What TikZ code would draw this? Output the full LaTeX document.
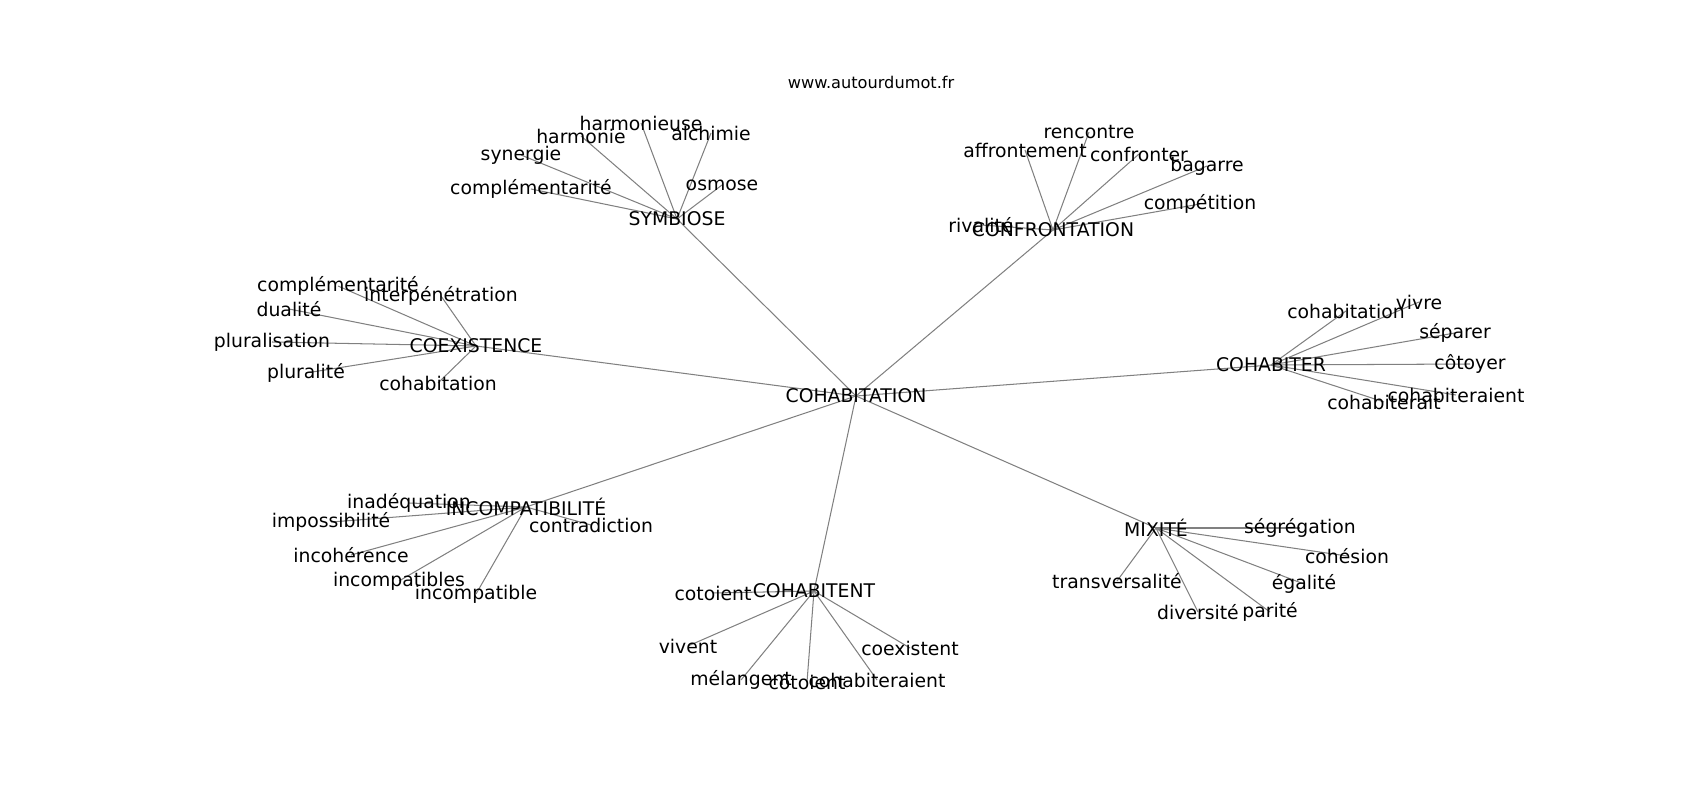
\documentclass[tikz,border=0pt]{standalone}
\usepackage{fontspec}
\setmainfont{DejaVu Sans}
\usetikzlibrary{backgrounds}
\tikzstyle{mot}=[inner sep=0pt,font=\fontsize{13.6}{16}\selectfont]
\tikzstyle{lien}=[draw=gray,line width=0.75pt]
\newcommand{\mot}[3]{\node[mot] (#1) at (#2) {#3};}
\newcommand{\lien}[2]{ \draw[lien] (#1.center) -- (#2.center);}

\begin{document}
\begin{tikzpicture}[x=0.0254cm,y=-0.0254cm]
    \useasboundingbox (0,0) rectangle (1700,800);
    \node[inner sep=0pt,font=\fontsize{11.7}{14}\selectfont] (titre) at (871,82) {www.autourdumot.fr};
    % centre et mots lies
    \mot{cohab}{856,396}{COHABITATION}
    \mot{symb}{677,219}{SYMBIOSE}
    \mot{conf}{1053,230}{CONFRONTATION}
    \mot{coex}{476,346}{COEXISTENCE}
    \mot{cohr}{1271,365}{COHABITER}
    \mot{inco}{526,507}{INCOMPATIBILITÉ}
    \mot{cohn}{814,591}{COHABITENT}
    \mot{mixi}{1156,528}{MIXITÉ}

    \mot{s1}{531,189}{complémentarité}
    \mot{s2}{521,155}{synergie}
    \mot{s3}{581,136}{harmonie}
    \mot{s4}{641,123}{harmonieuse}
    \mot{s5}{711,133}{alchimie}
    \mot{s6}{722,185}{osmose}

    \mot{f1}{1025,150}{affrontement}
    \mot{f2}{1089,132}{rencontre}
    \mot{f3}{1139,154}{confronter}
    \mot{f4}{1207,166}{bagarre}
    \mot{f5}{1200,204}{compétition}
    \mot{f6}{981,225}{rivalité}

    \mot{e1}{338,286}{complémentarité}
    \mot{e2}{441,296}{interpénétration}
    \mot{e3}{289,309}{dualité}
    \mot{e4}{272,342}{pluralisation}
    \mot{e5}{306,373}{pluralité}
    \mot{e6}{438,383}{cohabitation}

    \mot{r1}{1346,311}{cohabitation}
    \mot{r2}{1419,302}{vivre}
    \mot{r3}{1455,333}{séparer}
    \mot{r4}{1470,364}{côtoyer}
    \mot{r5}{1456,395}{cohabiteraient}
    \mot{r6}{1384,402}{cohabiterait}

    \mot{i1}{409,503}{inadéquation}
    \mot{i2}{331,522}{impossibilité}
    \mot{i3}{591,525}{contradiction}
    \mot{i4}{351,555}{incohérence}
    \mot{i5}{399,581}{incompatibles}
    \mot{i6}{476,594}{incompatible}

    \mot{n1}{713,593}{cotoient}
    \mot{n2}{688,646}{vivent}
    \mot{n3}{910,648}{coexistent}
    \mot{n4}{741,680}{mélangent}
    \mot{n5}{807,682}{côtoient}
    \mot{n6}{877,680}{cohabiteraient}

    \mot{m1}{1300,528}{ségrégation}
    \mot{m2}{1347,556}{cohésion}
    \mot{m3}{1117,581}{transversalité}
    \mot{m4}{1304,584}{égalité}
    \mot{m5}{1198,612}{diversité}
    \mot{m6}{1270,612}{parité}

    \begin{scope}[on background layer]
    \foreach \h in {symb,conf,coex,cohr,inco,cohn,mixi} {
        \lien{cohab}{\h}
    }
    \foreach \l in {1,...,6} {
        \lien{symb}{s\l}
        \lien{conf}{f\l}
        \lien{coex}{e\l}
        \lien{cohr}{r\l}
        \lien{inco}{i\l}
        \lien{cohn}{n\l}
        \lien{mixi}{m\l}
    }
    \end{scope}
\end{tikzpicture}
\end{document}
